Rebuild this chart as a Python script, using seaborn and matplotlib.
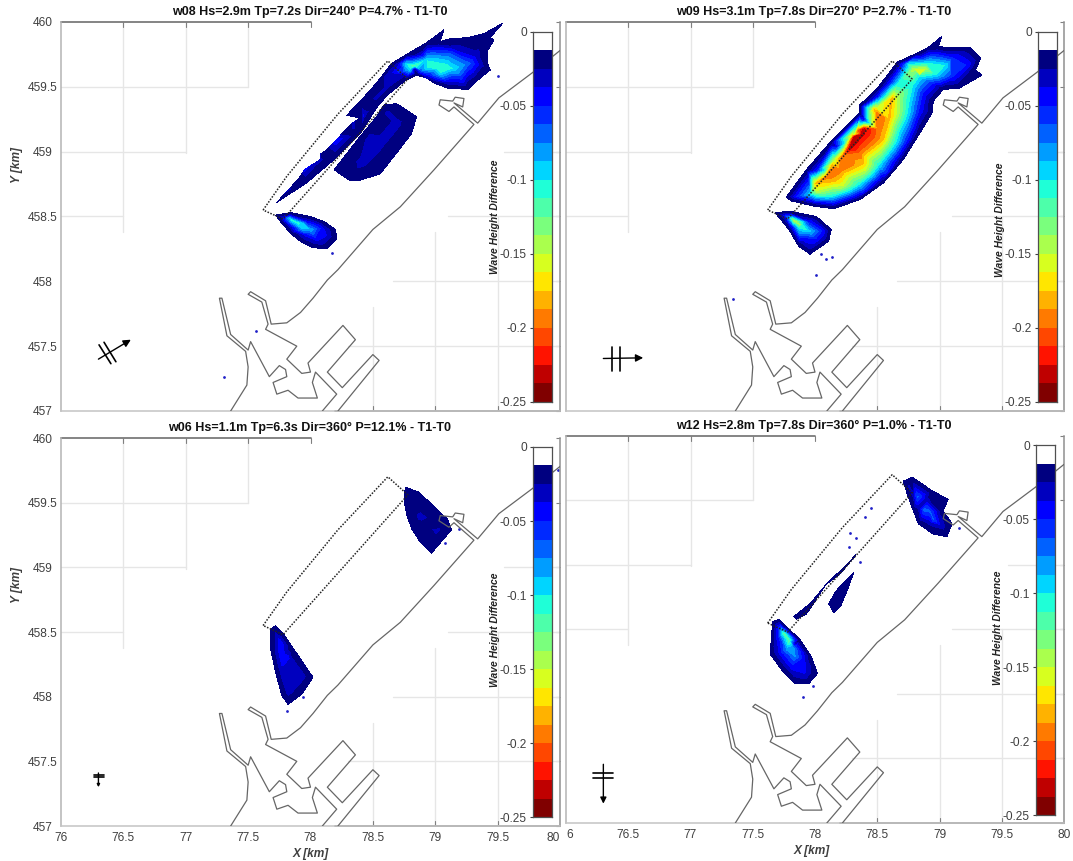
import numpy as np
import pandas as pd
import matplotlib
matplotlib.use("Agg")
import matplotlib.pyplot as plt
from matplotlib.colors import ListedColormap
from matplotlib.path import Path
from matplotlib.tri import Triangulation
from matplotlib.transforms import ScaledTranslation
import seaborn as sns

# coastline and harbour, km
coast_a_x = [80.0, 79.78, 79.51, 79.34, 79.15, 79.22, 79.23, 79.16, 79.14, 79.04, 79.03, 79.11, 79.15, 79.31,
             78.99, 78.72, 78.50, 78.22, 78.135, 78.02, 77.92, 77.81, 77.685, 77.64, 77.52, 77.50, 77.61, 77.66,
             77.64, 77.89, 77.81, 77.93, 78.0, 77.98, 78.26, 78.36, 78.135, 78.255, 78.50, 78.55, 78.22]
coast_a_y = [459.78, 459.61, 459.415, 459.22, 459.376, 459.345, 459.41, 459.42, 459.39, 459.40, 459.36, 459.31,
             459.345, 459.21, 458.86, 458.575, 458.40, 458.09, 458.01, 457.87, 457.76, 457.68, 457.67, 457.85,
             457.92, 457.90, 457.84, 457.67, 457.63, 457.50, 457.40, 457.29, 457.30, 457.37, 457.66, 457.55,
             457.30, 457.18, 457.435, 457.39, 457.0]
coast_b_x = [78.095, 78.21, 78.04, 78.015, 78.055, 77.90, 77.82, 77.73, 77.70, 77.81, 77.80, 77.75, 77.67, 77.52,
             77.50, 77.36, 77.29, 77.27, 77.33, 77.48, 77.50, 77.49, 77.36]
coast_b_y = [457.0, 457.13, 457.30, 457.22, 457.10, 457.10, 457.16, 457.13, 457.22, 457.265, 457.32, 457.35,
             457.265, 457.535, 457.47, 457.59, 457.87, 457.87, 457.58, 457.46, 457.34, 457.20, 457.0]

# dotted outline of the reclamation
outline_x = [77.62, 77.81, 78.22, 78.62, 78.78, 77.78, 77.62]
outline_y = [458.55, 458.81, 459.29, 459.70, 459.56, 458.48, 458.55]

EDGE = -0.013  # value on the outer edge of a patch

# wave height difference read along rings: (value, points); an EDGE ring opens a new patch
w08_rings = [
    (EDGE, [(78.65, 459.68), (78.77, 459.75), (78.93, 459.84), (79.07, 459.94), (79.04, 459.85), (79.12, 459.87),
            (79.26, 459.88), (79.39, 459.91), (79.54, 459.99), (79.44, 459.88), (79.47, 459.86), (79.42, 459.78),
            (79.42, 459.68), (79.44, 459.63), (79.34, 459.55), (79.26, 459.48), (79.10, 459.49), (78.99, 459.53),
            (78.85, 459.59), (78.76, 459.55), (78.61, 459.43), (78.53, 459.34), (78.40, 459.14), (78.19, 458.94),
            (77.97, 458.76), (77.73, 458.61), (77.92, 458.81), (78.11, 459.00), (78.27, 459.16), (78.40, 459.26),
            (78.29, 459.28), (78.40, 459.39), (78.53, 459.53)]),
    (-0.03, [(78.69, 459.68), (78.88, 459.76), (79.15, 459.81), (79.34, 459.75), (79.38, 459.67), (79.26, 459.55),
             (79.10, 459.52), (78.93, 459.57), (78.84, 459.63), (78.75, 459.58), (78.61, 459.49), (78.45, 459.30),
             (78.35, 459.18), (78.08, 458.94), (77.81, 458.69), (78.08, 458.98), (78.35, 459.23), (78.53, 459.41),
             (78.61, 459.60)]),
    (-0.07, [(78.73, 459.68), (78.91, 459.73), (79.12, 459.75), (79.27, 459.68), (79.20, 459.59), (79.04, 459.57),
             (78.88, 459.62), (78.75, 459.62)]),
    (-0.1, [(78.76, 459.68), (78.93, 459.71), (79.10, 459.68), (79.15, 459.64), (79.04, 459.60), (78.93, 459.64),
            (78.80, 459.63)]),
    (-0.125, [(78.83, 459.66)]),
    (-0.105, [(79.01, 459.64)]),
    (-0.05, [(78.21, 459.09), (78.42, 459.27)]),
    (-0.045, [(77.95, 458.86)]),
    # patch south-east of the strip
    (EDGE, [(78.59, 459.36), (78.69, 459.37), (78.85, 459.27), (78.81, 459.14), (78.69, 458.99), (78.56, 458.83),
            (78.40, 458.78), (78.31, 458.78), (78.19, 458.86), (78.27, 458.96), (78.40, 459.12), (78.53, 459.27)]),
    (-0.03, [(78.61, 459.30), (78.69, 459.22), (78.56, 459.07), (78.40, 458.91), (78.45, 459.09)]),
    # south patch
    (EDGE, [(77.72, 458.51), (77.84, 458.53), (78.00, 458.50), (78.11, 458.46), (78.20, 458.40), (78.21, 458.33),
            (78.13, 458.25), (78.02, 458.26), (77.93, 458.30), (77.84, 458.37), (77.76, 458.46)]),
    (-0.04, [(77.78, 458.50), (77.97, 458.47), (78.11, 458.41), (78.13, 458.35), (78.05, 458.31), (77.95, 458.35),
             (77.85, 458.41)]),
    (-0.09, [(77.82, 458.49), (77.95, 458.45), (78.00, 458.40), (77.93, 458.40), (77.85, 458.45)]),
    (-0.115, [(77.84, 458.48), (77.88, 458.46)]),
]
w09_rings = [
    (EDGE, [(78.66, 459.69), (78.82, 459.76), (78.92, 459.81), (79.02, 459.89), (78.99, 459.81), (79.11, 459.80),
            (79.25, 459.80), (79.33, 459.72), (79.29, 459.63), (79.34, 459.59), (79.16, 459.49), (79.03, 459.48),
            (78.95, 459.39), (78.94, 459.30), (78.84, 459.14), (78.71, 458.94), (78.55, 458.76), (78.36, 458.63),
            (78.15, 458.56), (77.99, 458.58), (77.81, 458.62), (77.77, 458.65), (77.93, 458.86), (78.12, 459.07),
            (78.36, 459.30), (78.36, 459.36), (78.51, 459.50)]),
    (-0.05, [(78.70, 459.68), (78.90, 459.75), (79.11, 459.73), (79.23, 459.67), (79.11, 459.57), (78.95, 459.52),
             (78.87, 459.44), (78.84, 459.31), (78.74, 459.07), (78.58, 458.83), (78.39, 458.68), (78.15, 458.60),
             (77.93, 458.63), (77.84, 458.65), (78.01, 458.86), (78.17, 459.04), (78.39, 459.25), (78.50, 459.43),
             (78.60, 459.54)]),
    (-0.1, [(78.74, 459.68), (78.90, 459.69), (79.06, 459.67), (78.98, 459.59), (78.84, 459.57), (78.79, 459.50),
            (78.76, 459.37), (78.68, 459.14), (78.52, 458.89), (78.36, 458.74), (78.15, 458.65), (77.96, 458.67),
            (78.07, 458.86), (78.23, 459.07), (78.41, 459.27), (78.55, 459.43), (78.66, 459.53)]),
    (-0.15, [(78.79, 459.64), (78.90, 459.64), (78.84, 459.59), (78.66, 459.43), (78.66, 459.28), (78.58, 459.07),
             (78.41, 458.85), (78.23, 458.73), (78.01, 458.69), (78.15, 458.94), (78.31, 459.14), (78.50, 459.35)]),
    (-0.165, [(78.84, 459.63)]),
    (-0.18, [(78.62, 459.42), (78.60, 459.25), (78.55, 459.09), (78.39, 458.91), (78.15, 458.77), (78.00, 458.76),
             (78.13, 458.90), (78.30, 459.13), (78.47, 459.33)]),
    (-0.2, [(78.50, 459.30), (78.50, 459.18), (78.36, 458.99), (78.20, 458.86), (78.09, 458.81), (78.22, 458.97),
            (78.34, 459.17)]),
    (-0.235, [(78.39, 459.18), (78.34, 459.09), (78.27, 459.03), (78.31, 459.12), (78.375, 459.14)]),
    # south patch
    (EDGE, [(77.68, 458.53), (77.80, 458.54), (78.01, 458.50), (78.13, 458.40), (78.11, 458.31), (77.96, 458.21),
            (77.87, 458.27), (77.79, 458.40)]),
    (-0.05, [(77.75, 458.51), (77.96, 458.46), (78.07, 458.39), (78.01, 458.32), (77.91, 458.33), (77.81, 458.42)]),
    (-0.1, [(77.79, 458.49), (77.91, 458.44), (77.95, 458.39), (77.87, 458.40)]),
    (-0.16, [(77.83, 458.47), (77.88, 458.44)]),
]
w06_rings = [
    (EDGE, [(78.76, 459.62), (78.87, 459.58), (79.10, 459.37), (79.13, 459.29), (78.97, 459.11), (78.87, 459.21),
            (78.81, 459.30), (78.77, 459.41), (78.75, 459.52)]),
    (-0.02, [(78.79, 459.55), (78.88, 459.48), (79.07, 459.29), (78.99, 459.21), (78.91, 459.32), (78.83, 459.44)]),
    (-0.03, [(78.88, 459.39), (79.02, 459.28)]),
    (EDGE, [(77.68, 458.52), (77.72, 458.55), (77.78, 458.49), (77.85, 458.39), (77.97, 458.22), (78.02, 458.15),
            (77.93, 458.02), (77.82, 457.94), (77.77, 458.01), (77.72, 458.19), (77.68, 458.37)]),
    (-0.03, [(77.72, 458.49), (77.85, 458.29), (77.95, 458.16), (77.82, 458.02), (77.76, 458.19), (77.72, 458.39)]),
    (-0.05, [(77.76, 458.42), (77.82, 458.29), (77.77, 458.31)]),
]
w12_rings = [
    (EDGE, [(78.71, 459.65), (78.78, 459.68), (78.95, 459.57), (79.07, 459.51), (79.03, 459.42), (79.10, 459.32),
            (79.06, 459.22), (78.95, 459.24), (78.83, 459.32), (78.79, 459.42), (78.74, 459.55)]),
    (-0.03, [(78.75, 459.61), (78.90, 459.51), (79.00, 459.39), (79.03, 459.29), (78.92, 459.32), (78.83, 459.44),
             (78.78, 459.55)]),
    (-0.07, [(78.82, 459.53), (78.92, 459.42), (78.95, 459.35), (78.87, 459.43)]),
    # two thin strips
    (EDGE, [(78.33, 459.08), (78.20, 458.93), (78.04, 458.78), (77.93, 458.62), (77.85, 458.58), (77.83, 458.60),
            (77.96, 458.70), (78.09, 458.85), (78.24, 458.99)]),
    (-0.02, [(78.15, 458.85), (77.96, 458.66)]),
    (EDGE, [(78.31, 458.94), (78.27, 458.83), (78.21, 458.69), (78.15, 458.63), (78.11, 458.70), (78.17, 458.80)]),
    (-0.02, [(78.19, 458.74)]),
    (-0.016, [(78.24, 458.84)]),
    # south patch
    (EDGE, [(77.66, 458.56), (77.71, 458.58), (77.88, 458.42), (77.97, 458.29), (78.02, 458.16), (77.95, 458.08),
            (77.84, 458.08), (77.73, 458.19), (77.64, 458.31), (77.65, 458.44)]),
    (-0.04, [(77.69, 458.53), (77.84, 458.39), (77.92, 458.26), (77.92, 458.16), (77.81, 458.19), (77.71, 458.31),
             (77.69, 458.44)]),
    (-0.08, [(77.72, 458.49), (77.83, 458.36), (77.84, 458.29), (77.77, 458.34)]),
    (-0.13, [(77.75, 458.47), (77.79, 458.42)]),
]

# isolated specks
w08_specks = [(77.56, 457.62), (79.50, 459.58), (78.17, 458.22), (77.31, 457.26)]
w09_specks = [(78.14, 458.19), (78.09, 458.17), (78.05, 458.21), (78.01, 458.05), (77.34, 457.86)]
w06_specks = [(77.81, 457.89), (77.94, 458.00), (79.08, 459.19), (79.19, 459.30), (79.98, 459.75)]
w12_specks = [(78.40, 459.37), (78.28, 459.25), (78.33, 459.21), (78.27, 459.14), (78.45, 459.44), (78.36, 459.02),
              (77.90, 457.98), (77.98, 458.06), (79.16, 459.29)]

titles = ["w08 Hs=2.9m Tp=7.2s Dir=240° P=4.7% - T1-T0", "w09 Hs=3.1m Tp=7.8s Dir=270° P=2.7% - T1-T0",
          "w06 Hs=1.1m Tp=6.3s Dir=360° P=12.1% - T1-T0", "w12 Hs=2.8m Tp=7.8s Dir=360° P=1.0% - T1-T0"]

# wave symbol: shaft (tail, tip) and the two bars
w08_arrow = [(76.30, 457.40), (76.56, 457.55)]
w08_bars = [[(76.305, 457.51), (76.40, 457.365)], [(76.345, 457.53), (76.44, 457.38)]]
w09_arrow = [(76.30, 457.405), (76.62, 457.41)]
w09_bars = [[(76.37, 457.31), (76.37, 457.49)], [(76.43, 457.31), (76.43, 457.49)]]
w06_arrow = [(76.30, 457.41), (76.30, 457.30)]
w06_bars = [[(76.265, 457.395), (76.345, 457.395)], [(76.265, 457.38), (76.345, 457.38)]]
w12_arrow = [(76.30, 457.455), (76.30, 457.15)]
w12_bars = [[(76.22, 457.39), (76.38, 457.39)], [(76.22, 457.345), (76.38, 457.345)]]

x_ticks = [76, 76.5, 77, 77.5, 78, 78.5, 79, 79.5, 80]
x_labels = ["76", "76.5", "77", "77.5", "78", "78.5", "79", "79.5", "80"]
y_ticks = [457, 457.5, 458, 458.5, 459, 459.5, 460]
y_labels = ["457", "457.5", "458", "458.5", "459", "459.5", "460"]
bar_ticks = [0, -0.05, -0.1, -0.15, -0.2, -0.25]
bar_labels = ["0", "-0.05", "-0.1", "-0.15", "-0.2", "-0.25"]

# grid fragments left visible in the original
grid_v = [(76.5, 458.38, 460), (77, 458.99, 460), (77.5, 459.5, 460),
          (78.5, 457, 457.8), (79, 457, 458.38), (79.5, 457, 458.5)]
grid_h = [(459.5, 76, 77.5), (459, 76, 77), (458.5, 76, 76.5),
          (457.5, 78.3, 80), (458, 78.66, 80), (458.5, 79.1, 80), (459, 79.55, 80)]

W, H = 1073, 861
GREY = "#404040"
sns.set_theme(style="white", font="Liberation Sans")
levels = np.linspace(-0.25, 0, 21)
jet = [plt.get_cmap("jet_r")(v) for v in np.linspace(0, 1, 19)]
bar_cmap = ListedColormap(jet + [(1, 1, 1, 1)])

fig = plt.figure(figsize=(W / 100, H / 100), dpi=100)


def px_axes(left, top, right, bottom):
    return fig.add_axes([left / W, 1 - bottom / H, (right - left) / W, (bottom - top) / H])


def split_patches(rings):
    patches = []
    for value, pts in rings:
        if value == EDGE:
            patches.append([])
        patches[-1].append((value, pts))
    return patches


def draw_field(ax, rings, specks):
    for patch in split_patches(rings):
        rows = [(x, y, v) for v, pts in patch for x, y in pts]
        df = pd.DataFrame(rows, columns=["x", "y", "v"]).drop_duplicates(["x", "y"])
        tri = Triangulation(df["x"], df["y"])
        # keep only triangles inside the patch edge
        edge = Path(patch[0][1])
        mid = np.c_[df["x"].values[tri.triangles].mean(axis=1), df["y"].values[tri.triangles].mean(axis=1)]
        tri.set_mask(~edge.contains_points(mid))
        ax.tricontourf(tri, df["v"], levels=levels[:-1], colors=jet, zorder=2)
    sp = pd.DataFrame(specks, columns=["x", "y"])
    sns.scatterplot(data=sp, x="x", y="y", ax=ax, color="#2020c8", s=4, linewidth=0, zorder=2, legend=False)


def draw_map(ax, rings, specks, arrow, bars, head):
    ax.set_xlim(76, 80)
    ax.set_ylim(457, 460)
    for x, y0, y1 in grid_v:
        ax.plot([x, x], [y0, y1], color="#e6e6e6", lw=1, zorder=1)
    for y, x0, x1 in grid_h:
        ax.plot([x0, x1], [y, y], color="#e6e6e6", lw=1, zorder=1)
    draw_field(ax, rings, specks)
    for xs, ys in [(coast_a_x, coast_a_y), (coast_b_x, coast_b_y)]:
        sns.lineplot(x=xs, y=ys, sort=False, estimator=None, ax=ax, color="#666666", lw=0.9, zorder=3)
    sns.lineplot(x=outline_x, y=outline_y, sort=False, estimator=None, ax=ax, color="#222222", lw=1.1,
                 linestyle=(0, (1, 1)), zorder=4)
    for bar in bars:
        ax.plot([bar[0][0], bar[1][0]], [bar[0][1], bar[1][1]], color="black", lw=1.2, zorder=5)
    ax.annotate("", xy=arrow[1], xytext=arrow[0],
                arrowprops=dict(arrowstyle="-|>", color="black", lw=1.0, shrinkA=0, shrinkB=0, mutation_scale=head))
    ax.set_xlim(76, 80)
    ax.set_ylim(457, 460)
    ax.set(xlabel="", ylabel="")
    for name, col in [("left", "#b4b4b4"), ("bottom", "#c4c4c4"), ("right", "#909090")]:
        ax.spines[name].set_color(col)
        ax.spines[name].set_linewidth(1.1)
    ax.spines["top"].set_visible(False)
    # top edge only runs to x=78, heavier bottom edge starts near 78.2
    ax.plot([76, 78], [1, 1], transform=ax.get_xaxis_transform(), color="#707070", lw=1.2, clip_on=False)
    ax.plot([78.2, 80], [0, 0], transform=ax.get_xaxis_transform(), color="#808080", lw=1.2, clip_on=False)
    for x in [76.5, 77, 77.5, 78]:
        ax.plot([x, x], [1, 0.987], transform=ax.get_xaxis_transform(), color="#808080", lw=0.8)
    for x in [78.5, 79, 79.5]:
        ax.plot([x, x], [0, 0.013], transform=ax.get_xaxis_transform(), color="#808080", lw=0.8)


def draw_bar(left, top, right, bottom):
    cax = px_axes(left, top, right, bottom)
    mids = ((levels[:-1] + levels[1:]) / 2)[::-1].reshape(-1, 1)
    sns.heatmap(mids, cmap=bar_cmap, vmin=-0.25, vmax=0, cbar=False, ax=cax, xticklabels=False, yticklabels=False)
    cax.set_yticks([v / -0.0125 for v in bar_ticks])
    cax.set_yticklabels(bar_labels, fontsize=8.6, color=GREY)
    cax.tick_params(axis="y", left=True, length=2.5, width=0.8, color=GREY, pad=2, rotation=0)
    for name, sp in cax.spines.items():
        sp.set_visible(True)
        sp.set_color("#505050")
        sp.set_linewidth(0.9)


panels = [
    ((61, 22, 560, 411), w08_rings, w08_specks, w08_arrow, w08_bars, 11, (533, 32, 552, 402), (495, 217)),
    ((566, 22, 1064, 411), w09_rings, w09_specks, w09_arrow, w09_bars, 11, (1038, 32, 1057, 402), (1000, 220)),
    ((61, 438, 560, 826), w06_rings, w06_specks, w06_arrow, w06_bars, 4, (533, 447, 552, 817), (495, 630)),
    ((566, 436, 1064, 823), w12_rings, w12_specks, w12_arrow, w12_bars, 9, (1036, 445, 1055, 815), (998, 628)),
]

for i, (box, rings, specks, arrow, bars, head, bar_box, lab) in enumerate(panels):
    ax = px_axes(*box)
    draw_map(ax, rings, specks, arrow, bars, head)
    ax.set_xticks(x_ticks)
    ax.set_yticks(y_ticks)
    if i >= 2:
        labels = list(x_labels)
        if i == 3:
            labels[0] = "6"
        ticks = ax.set_xticklabels(labels, fontsize=8.6, color=GREY)
        if i == 2:
            ticks[-1].set_ha("right")
        else:
            ticks[0].set_ha("left")
    else:
        ax.set_xticklabels([])
    if i % 2 == 0:
        ax.set_yticklabels(y_labels, fontsize=8.6, color=GREY, ha="center")
        ax.tick_params(axis="y", pad=13.5)
    else:
        ax.set_yticklabels([])
    ax.tick_params(axis="x", bottom=False, length=0, pad=4)
    ax.tick_params(axis="y", left=False, right=True, direction="in", length=3, width=0.8, color="#808080")
    fig.text((box[0] + box[2] - 2) / 2 / W, 1 - (box[1] - 10) / H, titles[i], ha="center", va="center",
             fontsize=9.0, fontweight="bold", color="#111111")
    draw_bar(*bar_box)
    fig.text(lab[0] / W, 1 - lab[1] / H, "Wave Height Difference", rotation=90, ha="center", va="center",
             fontsize=7.4, fontweight="bold", fontstyle="italic", color="#222222")

for x, y in [(17, 165), (17, 585)]:
    fig.text(x / W, 1 - y / H, "Y [km]", rotation=90, ha="center", va="center", fontsize=8.6, fontweight="bold",
             fontstyle="italic", color=GREY)
for x, y in [(311, 854), (812, 851)]:
    fig.text(x / W, 1 - y / H, "X [km]", ha="center", va="center", fontsize=8.6, fontweight="bold",
             fontstyle="italic", color=GREY)

fig.savefig("out.png", dpi=100, facecolor="white")
